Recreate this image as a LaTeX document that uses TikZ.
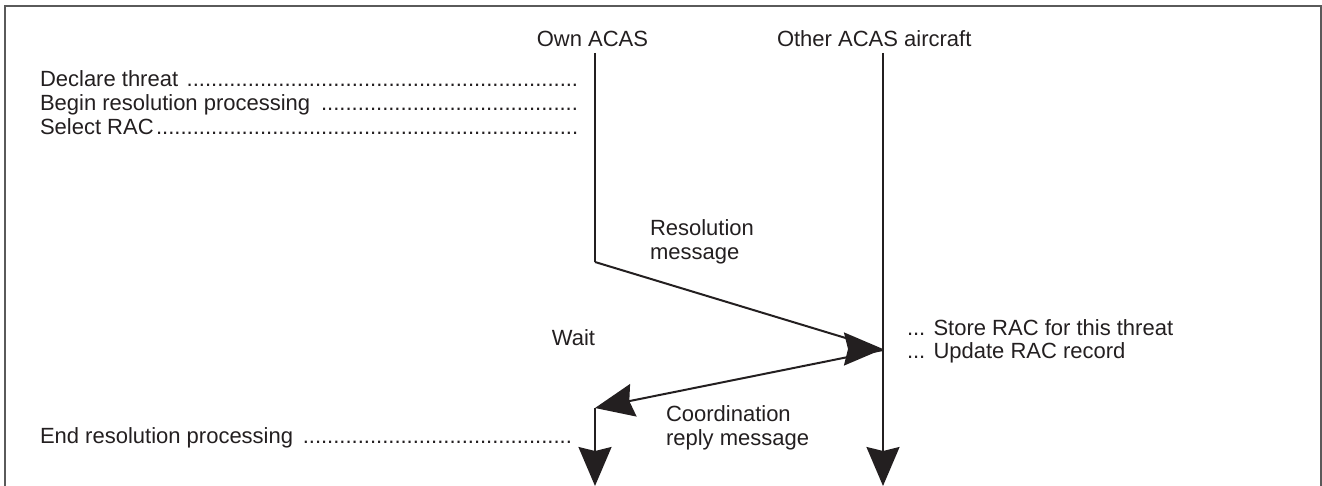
\documentclass[tikz,border=0pt]{standalone}
\usepackage{fontspec}
\setmainfont{Liberation Sans}
\usetikzlibrary{arrows.meta}
\definecolor{framegray}{HTML}{5A5A5A}
\definecolor{ink}{HTML}{231F20}
\tikzset{
  lbl/.style={anchor=base west, inner sep=0pt, outer sep=0pt, text=ink,
    font=\fontsize{22}{23.7}\selectfont},
  lblr/.style={lbl, anchor=base east},
  life/.style={line width=2pt, draw=ink},
  bigtip/.style={-{Stealth[length=39pt,width=33pt,inset=4pt]}},
}
\newcommand{\myleader}[2]{\hbox to #1{#2\leaders\hbox{.}\hfill}}
\begin{document}
\begin{tikzpicture}[x=1pt,y=-1pt]
\useasboundingbox (0,0) rectangle (1322,486);
% frame (bottom edge lies outside the picture)
\draw[framegray, line width=1.5pt] (5,495) -- (5,6) -- (1321,6) -- (1321,495);

% headers
\node[lblr] (own) at (648,47) {Own ACAS};
\node[lbl] (other) at (777,47) {Other ACAS aircraft};

% left event labels
\node[lbl] (dt)  at (40,86.7)  {\myleader{540pt}{Declare threat }};
\node[lbl] (brp) at (40,110.7) {\myleader{540pt}{Begin resolution processing }};
\node[lbl] (sr)  at (40,134.4) {\myleader{540pt}{Select RAC}};
\node[lbl] (erp) at (40,443)   {\myleader{535pt}{End resolution processing }};

% message labels
\node[lbl] (res1) at (650,236)   {Resolution};
\node[lbl] (res2) at (650,259.5) {message};
\node[lblr] (wait) at (595,345)  {Wait};
\node[lbl] (co1) at (666,421.7)  {Coordination};
\node[lbl] (co2) at (666,445.4)  {reply message};
\node[lbl] (st1) at (907,335)    {... Store RAC for this threat};
\node[lbl] (st2) at (907,358.7)  {... Update RAC record};

% lifeline points
\coordinate (ownTop)    at (595,53);
\coordinate (ownBend)   at (595,262);
\coordinate (resMid)    at (844,337.5);
\coordinate (resC1)     at (860,343);
\coordinate (resC2)     at (866,349);
\coordinate (rxPt)      at (883,349);
\coordinate (replyFrom) at (883,350);
\coordinate (ownRet)    at (595,408);
\coordinate (ownEnd)    at (595,486);
\coordinate (otherTop)  at (883,53);
\coordinate (otherEnd)  at (883,486);

% lifelines and messages
\draw[life] (ownTop) -- (ownBend);
\draw[life, bigtip] (ownBend) -- (resMid) .. controls (resC1) and (resC2) .. (rxPt);
\draw[life, bigtip] (replyFrom) -- (ownRet);
\draw[life, bigtip] (ownRet) -- (ownEnd);
\draw[life, bigtip] (otherTop) -- (otherEnd);
\end{tikzpicture}
\end{document}
